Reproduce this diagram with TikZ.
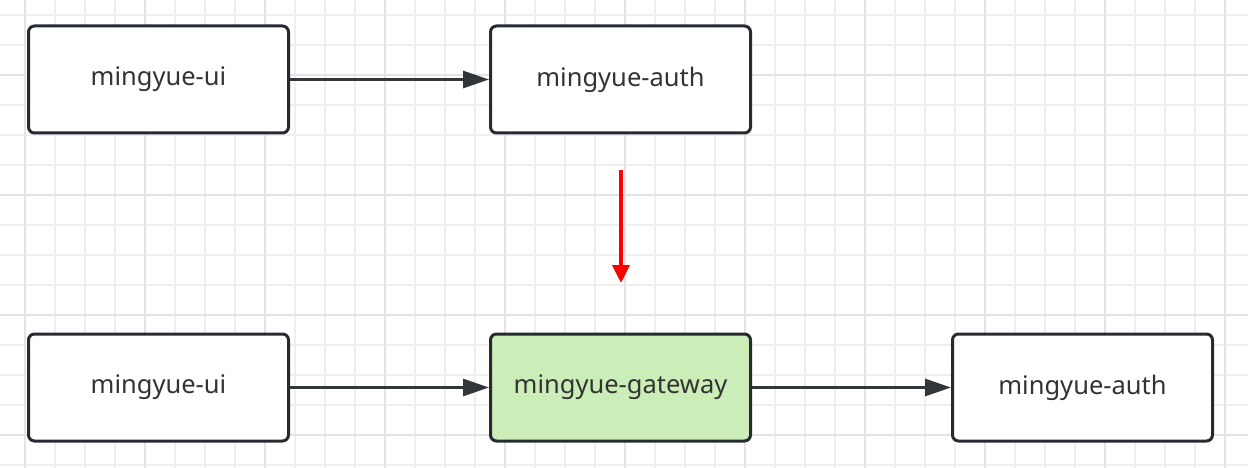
\documentclass[tikz,border=0pt]{standalone}
\usepackage{fontspec}
\setmainfont{Noto Sans}
\usetikzlibrary{positioning,arrows.meta}

\definecolor{boxline}{HTML}{262B31}
\definecolor{txt}{HTML}{333333}
\definecolor{gwfill}{HTML}{CBEDB7}
\definecolor{gridminor}{HTML}{EFEFEF}
\definecolor{gridmajor}{HTML}{E3E3E3}

\tikzset{
  service/.style={draw=boxline, line width=3pt, rounded corners=6pt, fill=white,
    minimum width=260pt, minimum height=107pt, text=txt, font=\fontsize{25.5}{30}\selectfont},
  gateway/.style={fill=gwfill},
  link/.style={draw=boxline!95!white, line width=3pt, -{Triangle[length=26pt,width=17pt]}},
  redlink/.style={draw=red, line width=4pt, -{Triangle[length=18pt,width=17pt]}}
}

\begin{document}
\begin{tikzpicture}[x=1pt, y=-1pt]
\useasboundingbox (0,0) rectangle (1248,468);
% grid
\foreach \x in {25,55,...,1248}
  \draw [gridminor, line width=1.5pt] (\x,0) -- (\x,468);
\foreach \y in {15,45,...,468}
  \draw [gridminor, line width=1.5pt] (0,\y) -- (1248,\y);
\foreach \x in {25,145,...,1248}
  \draw [gridmajor, line width=1.5pt] (\x,0) -- (\x,468);
\foreach \y in {75,195,...,468}
  \draw [gridmajor, line width=1.5pt] (0,\y) -- (1248,\y);

% top row
\node [service] (ui-top) at (158.5,79.5) {mingyue-ui};
\node [service] (auth-top) at (620.5,79.5) {mingyue-auth};

% bottom row
\node [service] (ui-bottom) at (158.5,387.5) {mingyue-ui};
\node [service, gateway] (gateway) at (620.5,387.5) {mingyue-gateway};
\node [service] (auth-bottom) at (1082.5,387.5) {mingyue-auth};

\draw [link] (ui-top) -- (auth-top);
\draw [link] (ui-bottom) -- (gateway);
\draw [link] (gateway) -- (auth-bottom);

\coordinate (change-start) at (621,170);
\coordinate (change-end) at (621,283);
\draw [redlink] (change-start) -- (change-end);
\end{tikzpicture}
\end{document}
